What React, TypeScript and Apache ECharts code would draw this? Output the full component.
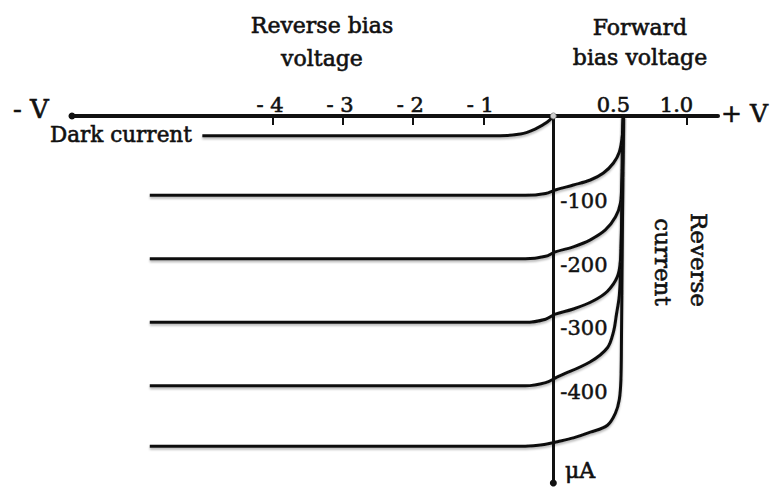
import React, { useEffect, useRef } from 'react';
import * as echarts from 'echarts';

const FONT = '"DejaVu Serif", "Liberation Serif", serif';
const INK = '#111';
const GRID = { left: 72, right: 52, top: 116, bottom: 10 };

// Voltage axis (V): reverse bias at one unit per volt, forward bias stretched.
const reverseTicks = [-4, -3, -2, -1];
const reverseTickLabels = ['- 4', '- 3', '- 2', '- 1'];
const forwardTicks = [0.5, 1.0];
const forwardTickLabels = ['0.5', '1.0'];
const voltageRange = [-6.87, 1.25];

// Current axis (μA)
const currentRange = [-553, 25];
const currentTicks = [-100, -200, -300, -400];

// Curves as [voltage V, current μA]
const darkCurrent = [
  [-5.01, -6], [-0.76, -6], [-0.47, -3.4], [-0.26, 4.5], [-0.086, 15.5], [0, 25],
];
const photo100 = [
  [-5.76, -100], [-0.4, -100], [-0.11, -97], [0.014, -91.5], [0.143, -83.7], [0.264, -75.8],
  [0.357, -64.8], [0.429, -49], [0.471, -31.7], [0.493, -5], [0.5, 25],
];
const photo200 = [
  [-5.76, -200], [-0.4, -200], [-0.11, -196], [0.014, -189], [0.143, -181], [0.264, -170],
  [0.371, -154.5], [0.443, -134], [0.479, -112], [0.489, -76], [0.493, -28], [0.5, 25],
];
const photo300 = [
  [-5.76, -300], [-0.4, -300], [-0.11, -295], [0.014, -287], [0.143, -279], [0.286, -266],
  [0.386, -251], [0.457, -228], [0.479, -202], [0.486, -155], [0.493, -60], [0.5, 25],
];
const photo400 = [
  [-5.76, -400], [-0.4, -400], [-0.11, -395], [0.029, -386], [0.264, -362], [0.386, -340],
  [0.429, -315], [0.45, -288], [0.471, -257], [0.482, -202], [0.493, -80], [0.5, 25],
];
const photo500 = [
  [-5.76, -495], [-0.4, -495], [-0.11, -492], [0.029, -488], [0.143, -482], [0.264, -473],
  [0.386, -462], [0.443, -443], [0.471, -421], [0.482, -391], [0.486, -330], [0.493, -150],
  [0.5, 25],
];
const originPoint = [[0, 25]];

// Piecewise voltage scale: forward side drawn wider than reverse side
const toAxis = (v: number) => (v <= 0 ? v : v <= 0.5 ? v * 2 : 1 + (v - 0.5) * 1.8);

const tickValues = [...reverseTicks, ...forwardTicks];
const tickLabels = [...reverseTickLabels, ...forwardTickLabels];
const tickAxisValues = tickValues.map(toAxis);

const curveSeries = (data: number[][]) => ({
  type: 'line',
  data: data.map(([v, i]) => [toAxis(v), i]),
  showSymbol: false,
  smooth: 0.35,
  clip: false,
  silent: true,
  lineStyle: {
    color: INK,
    width: 3,
    shadowColor: 'rgba(0,0,0,0.28)',
    shadowBlur: 2,
    shadowOffsetY: 2,
  },
});

const text = (t: string, x: number, y: number, size: number, align = 'center', rotation = 0) => ({
  type: 'text',
  x,
  y,
  rotation,
  style: {
    text: t,
    fill: INK,
    stroke: INK,
    lineWidth: 0.6,
    fontFamily: FONT,
    fontSize: size,
    align,
    verticalAlign: 'middle',
  },
});

export default function App() {
  const ref = useRef<HTMLDivElement>(null);

  useEffect(() => {
    if (!ref.current) return;
    const chart = echarts.init(ref.current, undefined, { renderer: 'svg' });
    chart.setOption({
      animation: false,
      backgroundColor: '#fff',
      grid: { ...GRID, outerBoundsMode: 'none' },
      xAxis: {
        type: 'value',
        position: 'top',
        min: toAxis(voltageRange[0]),
        max: toAxis(voltageRange[1]),
        axisLine: {
          onZero: false,
          symbol: ['circle', 'none'],
          symbolSize: [7, 7],
          lineStyle: { color: INK, width: 4 },
        },
        axisTick: {
          inside: true,
          length: 9,
          customValues: tickAxisValues,
          lineStyle: { color: INK, width: 2 },
        },
        axisLabel: {
          customValues: tickAxisValues,
          margin: 1,
          formatter: (val: number) => {
            const i = tickAxisValues.findIndex((a) => Math.abs(a - val) < 1e-6);
            if (i < 0) return '';
            return `{t|${tickLabels[i]}}{${tickValues[i] < 0 ? 'pn' : 'pp'}| }`;
          },
          rich: {
            t: {
              fontFamily: FONT,
              fontSize: 21,
              color: INK,
              textBorderColor: INK,
              textBorderWidth: 0.6,
            },
            pn: { width: 6, fontSize: 21 },
            pp: { width: 20, fontSize: 21 },
          },
        },
        splitLine: { show: false },
      },
      yAxis: {
        type: 'value',
        position: 'left',
        min: currentRange[0],
        max: currentRange[1],
        axisLine: {
          onZero: false,
          symbol: ['circle', 'none'],
          symbolSize: [7, 7],
          lineStyle: { color: INK, width: 3 },
        },
        axisTick: { show: false },
        axisLabel: {
          inside: true,
          customValues: currentTicks,
          margin: 7,
          verticalAlign: 'top',
          lineHeight: 12,
          fontFamily: FONT,
          fontSize: 21,
          color: INK,
          textBorderColor: INK,
          textBorderWidth: 0.5,
        },
        splitLine: { show: false },
      },
      series: [
        curveSeries(darkCurrent),
        curveSeries(photo100),
        curveSeries(photo200),
        curveSeries(photo300),
        curveSeries(photo400),
        curveSeries(photo500),
        {
          type: 'scatter',
          data: originPoint,
          symbolSize: 6,
          clip: false,
          silent: true,
          z: 5,
          itemStyle: { color: '#fff', borderColor: '#666', borderWidth: 1 },
        },
      ],
      graphic: [
        text('Reverse bias', 322, 25.4, 22),
        text('voltage', 322, 58.4, 22),
        text('Forward', 640, 27.4, 22),
        text('bias voltage', 640, 57.4, 22),
        text('- V', 13, 109, 26, 'left'),
        text('+ V', 721, 113, 25, 'left'),
        text('Dark current', 50, 134.6, 21.5, 'left'),
        text('μA', 565, 470.4, 22, 'left'),
        text('Reverse', 699, 260, 23, 'center', -Math.PI / 2),
        text('current', 663, 262, 23, 'center', -Math.PI / 2),
      ],
    });
    // Stand the current axis on zero volts, keeping its labels beside it.
    const zeroX = chart.convertToPixel({ xAxisIndex: 0 }, 0) as number;
    chart.setOption({ yAxis: { offset: GRID.left - zeroX } });
    return () => chart.dispose();
  }, []);

  return (
    <div
      ref={ref}
      style={{ position: 'fixed', left: 0, top: 0, width: 770, height: 493 }}
    />
  );
}
